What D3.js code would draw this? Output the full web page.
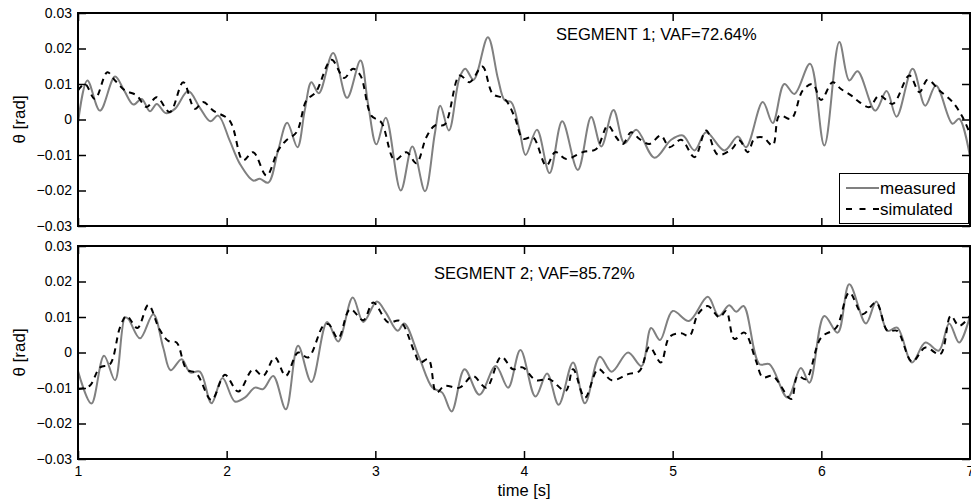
<!DOCTYPE html>
<html>
<head>
<meta charset="utf-8">
<script src="https://cdn.jsdelivr.net/npm/d3@7"></script>
<style>
  html, body { margin: 0; padding: 0; background: #fff; }
  svg { display: block; font-family: "Liberation Sans", Arial, Helvetica, sans-serif; }
</style>
</head>
<body>
<svg id="chart" width="971" height="502"></svg>
<script>
// Axis ticks
const xTicks = [1, 2, 3, 4, 5, 6, 7];
const xTickLabels = ["1", "2", "3", "4", "5", "6", "7"];
const yTicks = [-0.03, -0.02, -0.01, 0, 0.01, 0.02, 0.03];
const yTickLabels = ["\u22120.03", "\u22120.02", "\u22120.01", "0", "0.01", "0.02", "0.03"];

// Segment titles
const segmentTitles = ["SEGMENT 1; VAF=72.64%", "SEGMENT 2; VAF=85.72%"];
const seriesNames = ["measured", "simulated"];

// Segment 1: [time (s), angle (rad)]
const seg1Measured = [
  [1.000,-0.0010],[1.063,0.0110],[1.148,0.0025],[1.249,0.0121],[1.310,0.0082],[1.372,0.0042],
  [1.428,0.0058],[1.484,0.0023],[1.530,0.0044],[1.590,0.0018],[1.652,0.0030],[1.741,0.0080],
  [1.820,0.0033],[1.890,-0.0005],[1.943,0.0011],[2.020,-0.0059],[2.089,-0.0125],[2.178,-0.0172],
  [2.223,-0.0167],[2.280,-0.0178],[2.346,-0.0087],[2.407,-0.0009],[2.476,-0.0078],[2.525,0.0025],
  [2.570,0.0105],[2.620,0.0074],[2.716,0.0187],[2.810,0.0061],[2.900,0.0166],[2.951,0.0044],
  [3.007,-0.0070],[3.070,0.0005],[3.171,-0.0200],[3.249,-0.0076],[3.334,-0.0202],[3.400,-0.0040],
  [3.437,0.0039],[3.495,-0.0031],[3.567,0.0119],[3.605,0.0143],[3.661,0.0112],[3.757,0.0232],
  [3.825,0.0115],[3.870,0.0054],[3.914,0.0049],[3.970,-0.0031],[4.011,-0.0100],[4.087,-0.0029],
  [4.172,-0.0151],[4.257,-0.0005],[4.362,-0.0142],[4.452,0.0007],[4.520,-0.0076],[4.602,0.0027],
  [4.676,-0.0067],[4.755,-0.0029],[4.878,-0.0108],[4.990,-0.0057],[5.068,-0.0045],[5.147,-0.0087],
  [5.225,-0.0036],[5.348,-0.0087],[5.438,-0.0048],[5.494,-0.0078],[5.606,0.0049],[5.673,-0.0010],
  [5.751,0.0100],[5.819,0.0072],[5.924,0.0157],[6.020,-0.0073],[6.121,0.0218],[6.188,0.0110],
  [6.244,0.0136],[6.363,0.0025],[6.439,0.0080],[6.506,0.0008],[6.614,0.0143],[6.699,0.0039],
  [6.771,0.0096],[6.882,-0.0012],[6.927,0.0002],[7.000,-0.0105]
];
const seg1Simulated = [
  [1.000,0.0082],[1.047,0.0100],[1.114,0.0058],[1.197,0.0133],[1.249,0.0110],[1.316,0.0082],
  [1.394,0.0068],[1.461,0.0035],[1.529,0.0063],[1.618,0.0021],[1.708,0.0105],[1.786,0.0030],
  [1.842,0.0049],[1.910,0.0025],[2.020,-0.0003],[2.110,-0.0115],[2.178,-0.0092],[2.268,-0.0158],
  [2.346,-0.0087],[2.400,-0.0059],[2.470,-0.0036],[2.537,0.0054],[2.600,0.0077],[2.705,0.0168],
  [2.790,0.0117],[2.850,0.0143],[2.900,0.0124],[2.973,0.0011],[3.040,-0.0008],[3.130,-0.0114],
  [3.210,-0.0092],[3.276,-0.0123],[3.343,-0.0050],[3.400,-0.0017],[3.466,-0.0014],[3.567,0.0124],
  [3.634,0.0105],[3.720,0.0149],[3.790,0.0072],[3.870,0.0058],[3.937,0.0007],[3.993,-0.0054],
  [4.060,-0.0050],[4.150,-0.0130],[4.210,-0.0092],[4.284,-0.0111],[4.396,-0.0092],[4.486,-0.0083],
  [4.564,-0.0017],[4.620,-0.0050],[4.665,-0.0069],[4.720,-0.0036],[4.777,-0.0055],[4.844,-0.0069],
  [4.920,-0.0045],[4.979,-0.0078],[5.057,-0.0057],[5.147,-0.0106],[5.225,-0.0031],[5.303,-0.0099],
  [5.393,-0.0085],[5.449,-0.0059],[5.505,-0.0092],[5.550,-0.0054],[5.606,-0.0050],[5.673,-0.0073],
  [5.718,0.0011],[5.797,0.0002],[5.875,0.0082],[5.942,0.0100],[5.998,0.0055],[6.076,0.0105],
  [6.132,0.0086],[6.200,0.0068],[6.256,0.0049],[6.323,0.0035],[6.390,0.0068],[6.480,0.0044],
  [6.592,0.0124],[6.660,0.0077],[6.715,0.0112],[6.794,0.0082],[6.883,0.0049],[6.950,0.0007],
  [7.000,-0.0040]
];

// Segment 2: [time (s), angle (rad)]
const seg2Measured = [
  [1.000,-0.0052],[1.090,-0.0144],[1.175,-0.0009],[1.249,-0.0078],[1.316,0.0099],[1.338,0.0095],
  [1.417,0.0040],[1.506,0.0108],[1.573,0.0014],[1.623,-0.0050],[1.697,-0.0019],[1.753,-0.0056],
  [1.820,-0.0054],[1.898,-0.0143],[1.972,-0.0072],[2.055,-0.0138],[2.122,-0.0127],[2.190,-0.0099],
  [2.245,-0.0103],[2.313,-0.0066],[2.398,-0.0160],[2.480,0.0019],[2.570,-0.0083],[2.676,0.0086],
  [2.750,0.0031],[2.848,0.0155],[2.919,0.0086],[3.010,0.0144],[3.070,0.0113],[3.150,0.0061],
  [3.194,0.0082],[3.295,-0.0014],[3.384,-0.0099],[3.450,-0.0113],[3.513,-0.0166],[3.600,-0.0047],
  [3.700,-0.0119],[3.810,-0.0038],[3.893,-0.0099],[3.976,0.0007],[4.077,-0.0124],[4.155,-0.0059],
  [4.233,-0.0147],[4.330,-0.0028],[4.410,-0.0143],[4.510,-0.0012],[4.590,-0.0054],[4.700,0.0000],
  [4.790,-0.0038],[4.855,0.0069],[4.915,0.0035],[5.000,0.0117],[5.110,0.0089],[5.236,0.0157],
  [5.310,0.0103],[5.380,0.0133],[5.427,0.0115],[5.477,0.0131],[5.584,-0.0033],[5.651,-0.0033],
  [5.773,-0.0127],[5.862,-0.0044],[5.920,-0.0085],[6.020,0.0103],[6.110,0.0056],[6.188,0.0192],
  [6.300,0.0082],[6.370,0.0144],[6.445,0.0061],[6.510,0.0070],[6.610,-0.0028],[6.700,0.0028],
  [6.790,0.0005],[6.860,0.0082],[6.927,0.0028],[7.000,0.0103]
];
const seg2Simulated = [
  [1.000,-0.0103],[1.078,-0.0094],[1.148,-0.0042],[1.215,-0.0033],[1.282,0.0070],[1.327,0.0103],
  [1.400,0.0069],[1.473,0.0134],[1.547,0.0066],[1.607,0.0033],[1.663,0.0028],[1.730,-0.0047],
  [1.797,-0.0059],[1.898,-0.0134],[1.988,-0.0063],[2.078,-0.0110],[2.178,-0.0047],[2.245,-0.0066],
  [2.324,-0.0014],[2.398,-0.0066],[2.480,0.0000],[2.548,-0.0014],[2.649,0.0075],[2.685,0.0080],
  [2.750,0.0040],[2.830,0.0122],[2.919,0.0091],[2.986,0.0141],[3.086,0.0085],[3.165,0.0089],
  [3.260,0.0005],[3.300,-0.0028],[3.357,-0.0019],[3.410,-0.0113],[3.466,-0.0094],[3.567,-0.0099],
  [3.656,-0.0066],[3.746,-0.0099],[3.847,-0.0012],[3.925,-0.0047],[3.990,-0.0042],[4.080,-0.0078],
  [4.170,-0.0075],[4.280,-0.0108],[4.330,-0.0047],[4.410,-0.0127],[4.500,-0.0047],[4.590,-0.0078],
  [4.700,-0.0061],[4.777,-0.0052],[4.844,0.0016],[4.920,-0.0028],[4.979,0.0044],[5.057,0.0054],
  [5.113,0.0047],[5.170,0.0108],[5.236,0.0131],[5.315,0.0099],[5.360,0.0117],[5.415,0.0038],
  [5.482,0.0056],[5.560,-0.0023],[5.606,-0.0070],[5.673,-0.0066],[5.797,-0.0131],[5.840,-0.0066],
  [5.897,-0.0075],[5.998,0.0042],[6.100,0.0070],[6.188,0.0169],[6.278,0.0108],[6.368,0.0141],
  [6.445,0.0061],[6.510,0.0061],[6.610,-0.0026],[6.700,0.0014],[6.800,-0.0005],[6.870,0.0103],
  [6.927,0.0075],[7.000,0.0103]
];

const svg = d3.select("#chart");
const left = 78, right = 970;
const panels = [
  { top: 13, bottom: 226, measured: seg1Measured, simulated: seg1Simulated, title: segmentTitles[0], titleX: 556, titleY: 40, legend: true, xLabels: false },
  { top: 246, bottom: 459, measured: seg2Measured, simulated: seg2Simulated, title: segmentTitles[1], titleX: 434, titleY: 278.5, legend: false, xLabels: true }
];

const x = d3.scaleLinear().domain([1, 7]).range([left, right]);
const tickLen = 8;
const font = '"Liberation Sans", Arial, Helvetica, sans-serif';

panels.forEach((p, i) => {
  const y = d3.scaleLinear().domain([-0.03, 0.03]).range([p.bottom, p.top]);
  const g = svg.append("g");

  const clipId = "clip" + i;
  svg.append("clipPath").attr("id", clipId)
    .append("rect").attr("x", left).attr("y", p.top).attr("width", right - left).attr("height", p.bottom - p.top);

  // Smooth trace through the sampled points
  const line = d3.line()
    .x(d => x(d[0])).y(d => y(d[1]))
    .curve(d3.curveCatmullRom.alpha(0.5));

  const plot = g.append("g").attr("clip-path", `url(#${clipId})`);
  plot.append("path").datum(p.measured)
    .attr("d", line).attr("fill", "none")
    .attr("stroke", "#808080").attr("stroke-width", 2).attr("stroke-linejoin", "round");
  plot.append("path").datum(p.simulated)
    .attr("d", line).attr("fill", "none")
    .attr("stroke", "#000").attr("stroke-width", 2).attr("stroke-dasharray", "6,5");

  // Inward ticks on all four sides
  const axL = d3.axisLeft(y).tickValues(yTicks).tickSizeInner(-tickLen).tickSizeOuter(0)
    .tickPadding(6).tickFormat((d, k) => yTickLabels[k]);
  const gl = g.append("g").attr("transform", `translate(${left},0)`).call(axL);
  const axR = d3.axisRight(y).tickValues(yTicks).tickSizeInner(-tickLen).tickSizeOuter(0).tickFormat("");
  const gr = g.append("g").attr("transform", `translate(${right},0)`).call(axR);
  const axB = d3.axisBottom(x).tickValues(xTicks).tickSizeInner(-tickLen).tickSizeOuter(0)
    .tickPadding(7).tickFormat((d, k) => p.xLabels ? xTickLabels[k] : "");
  const gb = g.append("g").attr("transform", `translate(0,${p.bottom})`).call(axB);
  const axT = d3.axisTop(x).tickValues(xTicks).tickSizeInner(-tickLen).tickSizeOuter(0).tickFormat("");
  const gt = g.append("g").attr("transform", `translate(0,${p.top})`).call(axT);

  [gl, gr, gb, gt].forEach(a => {
    a.select(".domain").remove();
    a.selectAll(".tick line").attr("stroke", "#000").attr("stroke-width", 1.5);
    a.selectAll("text").attr("font-family", font).attr("font-size", 14).attr("fill", "#000");
  });

  // Frame
  g.append("rect").attr("x", left).attr("y", p.top).attr("width", right - left).attr("height", p.bottom - p.top)
    .attr("fill", "none").attr("stroke", "#000").attr("stroke-width", 2);

  // Title
  g.append("text").attr("x", p.titleX).attr("y", p.titleY)
    .attr("font-family", font).attr("font-size", 16.5).attr("fill", "#000").text(p.title);

  // Y label
  g.append("text")
    .attr("transform", `translate(25,${(p.top + p.bottom) / 2}) rotate(-90)`)
    .attr("text-anchor", "middle")
    .attr("font-family", font).attr("font-size", 17).attr("fill", "#000").text("\u03b8 [rad]");

  if (p.legend) {
    const lg = g.append("g");
    lg.append("rect").attr("x", 839.5).attr("y", 173.5).attr("width", 129).attr("height", 50)
      .attr("fill", "#fff").attr("stroke", "#000").attr("stroke-width", 1);
    lg.append("line").attr("x1", 846).attr("x2", 879).attr("y1", 188).attr("y2", 188)
      .attr("stroke", "#808080").attr("stroke-width", 2);
    lg.append("line").attr("x1", 846).attr("x2", 879).attr("y1", 209).attr("y2", 209)
      .attr("stroke", "#000").attr("stroke-width", 2).attr("stroke-dasharray", "6,7.5");
    lg.append("text").attr("x", 880).attr("y", 193.5).attr("font-family", font).attr("font-size", 17)
      .attr("fill", "#000").text(seriesNames[0]);
    lg.append("text").attr("x", 880).attr("y", 214.5).attr("font-family", font).attr("font-size", 17)
      .attr("fill", "#000").text(seriesNames[1]);
  }
});

// X label
svg.append("text").attr("x", (left + right) / 2).attr("y", 496)
  .attr("text-anchor", "middle").attr("font-family", font).attr("font-size", 16.5)
  .attr("fill", "#000").text("time [s]");
</script>
</body>
</html>
